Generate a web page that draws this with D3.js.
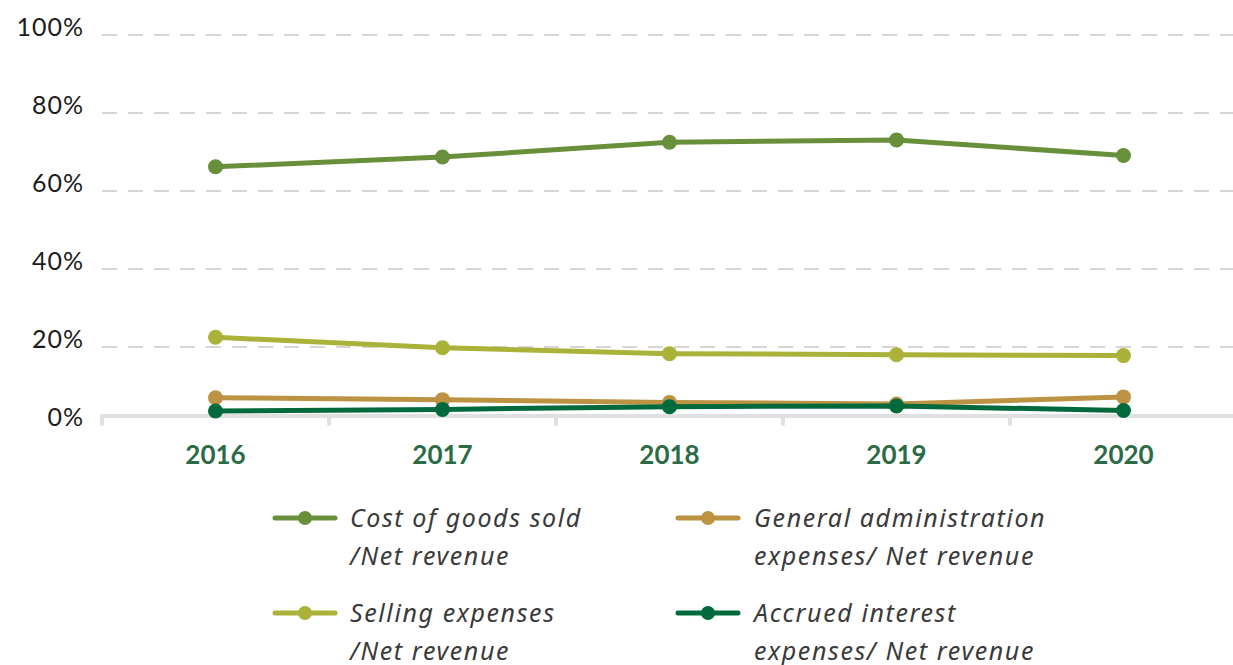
<!DOCTYPE html>
<html>
<head>
<meta charset="utf-8">
<script src="https://cdn.jsdelivr.net/npm/d3@7"></script>
<style>
  html, body { margin: 0; padding: 0; background: #fff; }
  svg { display: block; }
</style>
</head>
<body>
<svg id="chart" width="1233" height="665"></svg>
<script>
// Expense ratios to net revenue, 2016–2020
const years = ["2016", "2017", "2018", "2019", "2020"];
const costOfGoods = [66.2, 68.7, 72.5, 73.1, 69.1];
const sellingExpenses = [22.5, 19.8, 18.3, 18.0, 17.8];
const generalAdmin = [7.0, 6.5, 5.8, 5.4, 7.2];
const accruedInterest = [3.6, 4.0, 4.7, 4.9, 3.7];
const yTicks = [0, 20, 40, 60, 80, 100];

const seriesNames = [
  ["Cost of goods sold", "/Net revenue"],
  ["Selling expenses", "/Net revenue"],
  ["General administration", "expenses/ Net revenue"],
  ["Accrued interest", "expenses/ Net revenue"]
];
const seriesValues = [costOfGoods, sellingExpenses, generalAdmin, accruedInterest];
const seriesColors = ["#688f3a", "#aab23a", "#bb9343", "#016a3d"];

const svg = d3.select("#chart");

const x = d3.scaleBand().domain(years).range([102, 1237]);
const y = d3.scaleLinear().domain([0, 100]).range([425, 35]);

// dashed horizontal grid
svg.append("g")
  .selectAll("line")
  .data(yTicks.filter(d => d > 0))
  .join("line")
  .attr("x1", 102).attr("x2", 1233)
  .attr("y1", d => y(d)).attr("y2", d => y(d))
  .attr("stroke", "#d6d6d6")
  .attr("stroke-width", 2)
  .attr("stroke-dasharray", "15 11");

// y labels
svg.append("g")
  .selectAll("text")
  .data(yTicks)
  .join("text")
  .attr("x", 84)
  .attr("y", d => y(d) - 8)
  .attr("dy", "0.35em")
  .attr("text-anchor", "end")
  .attr("font-family", "Lato, 'Noto Sans', sans-serif")
  .attr("font-size", 25)
  .attr("letter-spacing", 1)
  .attr("fill", "#1c1c1c")
  .text(d => d + "%");

// category axis with boundary ticks
const axisY = y(0) - 9;
const axisG = svg.append("g").attr("transform", `translate(0,${axisY})`);
axisG.append("line")
  .attr("x1", 102).attr("x2", 1233)
  .attr("stroke", "#e0e0e0").attr("stroke-width", 4);
axisG.selectAll("line.tick")
  .data(years)
  .join("line")
  .attr("class", "tick")
  .attr("x1", d => x(d)).attr("x2", d => x(d))
  .attr("y1", 0).attr("y2", 8)
  .attr("stroke", "#e0e0e0").attr("stroke-width", 4)
  .attr("stroke-linecap", "round");
axisG.selectAll("text")
  .data(years)
  .join("text")
  .attr("x", d => x(d) + x.bandwidth() / 2)
  .attr("y", 39)
  .attr("dy", "0.35em")
  .attr("text-anchor", "middle")
  .attr("font-family", "Lato, 'Noto Sans', sans-serif")
  .attr("font-weight", 700)
  .attr("font-size", 26)
  .attr("fill", "#2b6c47")
  .text(d => d);

// series lines and markers
const line = d3.line()
  .x((d, i) => x(years[i]) + x.bandwidth() / 2)
  .y(d => y(d));

seriesValues.forEach((vals, s) => {
  const g = svg.append("g");
  g.append("path")
    .datum(vals)
    .attr("d", line)
    .attr("fill", "none")
    .attr("stroke", seriesColors[s])
    .attr("stroke-width", 5)
    .attr("stroke-linejoin", "round");
  g.selectAll("circle")
    .data(vals)
    .join("circle")
    .attr("cx", (d, i) => x(years[i]) + x.bandwidth() / 2)
    .attr("cy", d => y(d))
    .attr("r", 7.5)
    .attr("fill", seriesColors[s]);
});

// legend
const legendPos = [
  { sx: 275, tx: 350, ty: 518 },
  { sx: 275, tx: 350, ty: 613 },
  { sx: 678, tx: 754, ty: 518 },
  { sx: 678, tx: 754, ty: 613 }
];
const legend = svg.append("g");
seriesNames.forEach((lines, s) => {
  const p = legendPos[s];
  const g = legend.append("g");
  g.append("line")
    .attr("x1", p.sx).attr("x2", p.sx + 60)
    .attr("y1", p.ty).attr("y2", p.ty)
    .attr("stroke", seriesColors[s])
    .attr("stroke-width", 5)
    .attr("stroke-linecap", "round");
  g.append("circle")
    .attr("cx", p.sx + 30).attr("cy", p.ty)
    .attr("r", 7)
    .attr("fill", seriesColors[s]);
  g.selectAll("text")
    .data(lines)
    .join("text")
    .attr("x", p.tx)
    .attr("y", (d, i) => p.ty + i * 38)
    .attr("dy", "0.35em")
    .attr("font-family", "'Noto Sans', sans-serif")
    .attr("font-style", "italic")
    .attr("font-size", 25)
    .attr("letter-spacing", 1.6)
    .attr("fill", "#3a3a3a")
    .text(d => d);
});
</script>
</body>
</html>
